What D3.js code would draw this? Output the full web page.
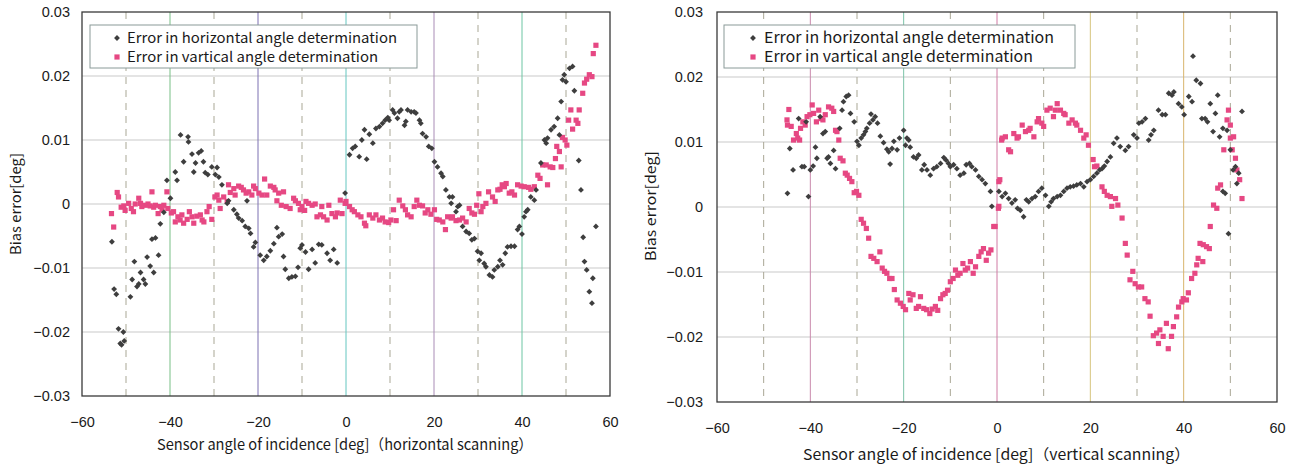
<!DOCTYPE html>
<html>
<head>
<meta charset="utf-8">
<script src="https://cdn.jsdelivr.net/npm/d3@7"></script>
<style>
  body { margin: 0; background: #fff; }
  svg { display: block; }
  text { font-family: "Liberation Sans", Arial, sans-serif; fill: #1a1a1a; }
  .jp { font-family: "Noto Sans CJK JP", "Liberation Sans", sans-serif; }
</style>
</head>
<body>
<svg id="chart" width="1301" height="467"></svg>
<script>
// ### DATA
var xTicks = [-60, -40, -20, 0, 20, 40, 60];
var xDashed = [-50, -30, -10, 10, 30, 50];
var yTicks = [-0.03, -0.02, -0.01, 0, 0.01, 0.02, 0.03];
var legendLabels = ["Error in horizontal angle determination", "Error in vartical angle determination"];
var yTitle = "Bias error[deg]";
var xTitleLeft = "Sensor angle of incidence [deg]（horizontal scanning）";
var xTitleRight = "Sensor angle of incidence [deg]（vertical scanning）";

// left panel: horizontal scanning
var leftHorizontal = [
  [-53.2,-0.0059],[-52.7,-0.0133],[-52.2,-0.0141],[-51.7,-0.0195],[-51.3,-0.0218],[-51.0,-0.0220],[-50.6,-0.0200],[-50.4,-0.0214],
  [-49.0,-0.0145],[-48.6,-0.0118],[-48.1,-0.0090],[-47.5,-0.0129],[-47.1,-0.0125],[-46.7,-0.0107],[-46.0,-0.0118],[-45.6,-0.0125],
  [-45.2,-0.0083],[-44.5,-0.0097],[-44.1,-0.0055],[-43.7,-0.0107],[-43.3,-0.0053],[-42.6,-0.0080],[-42.2,-0.0031],[-41.4,-0.0013],
  [-40.7,0.0037],[-39.9,0.0009],[-38.8,0.0050],[-38.4,0.0037],[-37.6,0.0108],[-36.9,0.0066],[-35.9,0.0105],[-35.8,0.0097],
  [-35.0,0.0078],[-34.6,0.0050],[-34.2,0.0064],[-33.5,0.0080],[-32.9,0.0083],[-32.4,0.0066],[-32.0,0.0049],[-31.4,0.0046],
  [-30.5,0.0058],[-29.7,0.0046],[-29.3,0.0057],[-28.9,0.0042],[-28.2,0.0030],[-27.0,0.0001],[-26.7,0.0005],[-25.5,-0.0009],
  [-24.8,-0.0016],[-24.4,-0.0022],[-23.6,-0.0026],[-22.9,-0.0035],[-22.5,0.0005],[-22.1,-0.0038],[-21.7,-0.0046],[-21.0,-0.0067],
  [-20.6,-0.0060],[-19.5,-0.0080],[-18.7,-0.0088],[-18.0,-0.0082],[-17.2,-0.0073],[-16.4,-0.0062],[-15.7,-0.0037],[-15.3,-0.0051],
  [-14.5,-0.0047],[-14.2,-0.0082],[-13.8,-0.0102],[-13.0,-0.0116],[-12.3,-0.0114],[-11.5,-0.0113],[-10.9,-0.0099],[-10.4,-0.0069],
  [-10.0,-0.0064],[-9.2,-0.0075],[-8.5,-0.0102],[-7.7,-0.0071],[-7.0,-0.0092],[-6.2,-0.0063],[-5.5,-0.0064],[-4.3,-0.0077],
  [-3.6,-0.0088],[-2.8,-0.0071],[-2.0,-0.0092],[-0.2,0.0017],
  [0.8,0.0077],[1.5,0.0087],[2.1,0.0090],[3.0,0.0074],[3.6,0.0100],[4.2,0.0116],[4.7,0.0070],[5.3,0.0109],[6.1,0.0095],
  [6.8,0.0118],[7.6,0.0121],[8.3,0.0126],[8.9,0.0131],[9.5,0.0135],[9.8,0.0131],[10.6,0.0147],[11.0,0.0142],[11.7,0.0134],
  [12.1,0.0144],[12.5,0.0147],[13.3,0.0123],[13.6,0.0129],[14.0,0.0147],[14.8,0.0144],[15.5,0.0144],[15.9,0.0142],[16.7,0.0131],
  [17.0,0.0126],[17.4,0.0110],[18.2,0.0105],[18.8,0.0090],[19.5,0.0087],[20.1,0.0066],[20.8,0.0058],[21.6,0.0048],[22.0,0.0043],
  [22.7,0.0022],[23.5,0.0011],[23.9,0.0001],[24.2,0.0011],[25.0,-0.0012],[25.4,-0.0004],[25.8,-0.0002],[26.5,-0.0035],
  [27.3,-0.0043],[28.0,-0.0046],[28.6,-0.0056],[29.2,-0.0054],[29.9,-0.0074],[30.3,-0.0088],[30.7,-0.0077],[31.4,-0.0093],
  [31.8,-0.0098],[32.6,-0.0111],[33.3,-0.0114],[33.7,-0.0103],[34.5,-0.0098],[35.0,-0.0088],[35.6,-0.0095],[36.2,-0.0077],
  [36.7,-0.0067],[37.5,-0.0066],[38.3,-0.0066],[39.0,-0.0040],[39.4,-0.0035],[40.0,-0.0047],[40.5,-0.0020],[40.9,-0.0012],
  [41.3,-0.0009],[42.0,0.0011],[42.8,0.0006],[43.2,0.0022],[44.3,0.0064],[45.1,0.0100],[45.5,0.0095],[45.8,0.0103],
  [46.6,0.0116],[47.3,0.0121],[48.1,0.0134],[48.5,0.0108],[48.9,0.0160],[49.2,0.0194],[49.6,0.0202],[50.0,0.0191],
  [50.8,0.0212],[51.5,0.0215],[51.9,0.0177],[52.9,0.0068],[53.4,0.0022],[53.9,-0.0052],[54.2,-0.0090],[54.7,-0.0103],
  [55.3,-0.0137],[55.9,-0.0155],[56.1,-0.0116],[56.8,-0.0035]
];
var leftVertical = [
  [-53.3,-0.0015],[-52.8,-0.0036],[-52.0,0.0018],[-51.7,0.0011],[-51.1,-0.0005],[-50.5,-0.0003],[-50.2,-0.0010],[-49.4,0.0001],
  [-48.8,-0.0007],[-48.3,-0.0012],[-47.9,0.0000],[-47.1,0.0009],[-46.7,0.0001],[-46.4,-0.0004],[-45.6,-0.0002],[-45.0,0.0000],
  [-44.5,-0.0003],[-44.1,0.0019],[-43.7,-0.0005],[-43.3,-0.0002],[-42.7,-0.0015],[-42.2,-0.0004],[-41.8,-0.0009],[-41.4,-0.0002],
  [-40.7,0.0019],[-40.5,-0.0007],[-39.7,-0.0014],[-39.2,-0.0012],[-38.8,-0.0028],[-38.2,-0.0020],[-37.7,-0.0025],[-37.3,-0.0017],
  [-36.9,-0.0030],[-36.1,-0.0024],[-35.6,-0.0012],[-35.0,-0.0020],[-34.6,-0.0030],[-33.9,-0.0019],[-33.1,-0.0017],[-32.7,-0.0025],
  [-32.3,-0.0028],[-31.6,-0.0012],[-31.1,-0.0004],[-30.5,-0.0024],[-29.8,0.0011],[-29.3,0.0014],[-28.9,0.0006],[-28.6,-0.0007],
  [-27.8,0.0011],[-27.0,0.0004],[-26.7,0.0030],[-26.3,0.0018],[-25.5,0.0024],[-25.2,0.0014],[-24.4,0.0028],[-23.8,0.0026],
  [-23.3,0.0022],[-22.7,0.0017],[-22.1,0.0019],[-21.4,0.0014],[-21.0,0.0028],[-20.6,0.0024],[-19.8,0.0017],[-19.1,0.0014],
  [-18.5,0.0039],[-18.0,0.0014],[-17.2,0.0028],[-16.4,0.0026],[-16.1,0.0022],[-15.7,0.0005],[-15.3,0.0017],[-14.7,-0.0002],
  [-14.2,0.0019],[-13.6,-0.0004],[-12.7,-0.0007],[-11.9,0.0009],[-11.5,0.0005],[-10.8,0.0001],[-10.4,-0.0009],[-10.0,-0.0004],
  [-9.4,-0.0010],[-9.1,0.0004],[-8.5,0.0001],[-7.7,-0.0002],[-7.0,0.0000],[-6.6,-0.0020],[-5.8,-0.0017],[-5.5,-0.0004],
  [-5.1,-0.0020],[-4.3,-0.0025],[-3.9,-0.0002],[-3.2,-0.0015],[-2.4,-0.0020],[-2.0,-0.0014],[-1.3,0.0006],[-0.9,-0.0015],
  [-0.2,0.0001],[0.0,0.0004],[0.8,-0.0004],[1.4,-0.0009],[1.9,-0.0012],[2.7,-0.0017],[3.4,-0.0020],[4.2,-0.0030],[4.5,-0.0034],
  [5.3,-0.0017],[6.1,-0.0022],[6.8,-0.0017],[7.6,-0.0025],[8.3,-0.0022],[8.9,-0.0028],[9.7,-0.0029],[10.2,-0.0025],[10.8,-0.0009],
  [11.4,-0.0026],[12.1,0.0006],[12.9,-0.0003],[13.5,-0.0009],[14.0,-0.0017],[14.8,-0.0020],[15.5,-0.0004],[16.1,0.0006],
  [16.7,-0.0002],[17.4,-0.0003],[18.0,-0.0014],[18.6,-0.0009],[19.3,-0.0016],[20.1,-0.0009],[20.6,-0.0024],[21.2,-0.0025],
  [22.0,-0.0028],[22.6,-0.0040],[23.1,-0.0020],[23.9,-0.0022],[24.2,-0.0020],[25.0,-0.0026],[25.8,-0.0025],[26.5,-0.0022],
  [27.3,-0.0028],[28.0,-0.0007],[28.6,-0.0014],[29.2,-0.0016],[29.7,-0.0002],[30.2,0.0016],[30.7,-0.0012],[31.1,-0.0004],
  [31.8,0.0001],[32.4,0.0019],[33.3,0.0011],[33.9,0.0004],[34.5,0.0022],[35.0,0.0023],[35.5,0.0030],[36.0,0.0027],[36.4,0.0032],
  [37.1,0.0017],[37.7,0.0019],[38.3,0.0014],[39.0,0.0030],[39.8,0.0028],[40.5,0.0027],[41.5,0.0026],[42.0,0.0023],[42.8,0.0027],
  [43.6,0.0045],[44.1,0.0040],[44.7,0.0061],[45.5,0.0061],[45.8,0.0030],[46.4,0.0058],[47.0,0.0057],[47.6,0.0071],[47.9,0.0090],
  [48.5,0.0082],[48.9,0.0058],[49.2,0.0104],[49.8,0.0100],[50.2,0.0092],[50.6,0.0131],[51.1,0.0147],[51.5,0.0117],[52.3,0.0131],
  [52.7,0.0126],[53.0,0.0147],[53.8,0.0173],[54.2,0.0189],[54.7,0.0195],[55.3,0.0202],[55.9,0.0199],[56.2,0.0235],[56.8,0.0248]
];

// right panel: vertical scanning
var rightHorizontal = [
  [-44.9,0.0021],[-44.4,0.0090],[-43.7,0.0057],[-42.5,0.0136],[-41.8,0.0062],[-41.3,0.0062],[-40.9,0.0131],[-40.4,0.0016],
  [-40.0,0.0057],[-39.4,0.0063],[-38.9,0.0092],[-38.6,0.0075],[-37.9,0.0139],[-37.3,0.0113],[-36.8,0.0116],[-36.4,0.0075],
  [-36.1,0.0077],[-35.7,0.0067],[-35.0,0.0087],[-34.6,0.0059],[-33.7,0.0121],[-33.2,0.0149],[-32.9,0.0162],[-32.3,0.0170],
  [-31.8,0.0172],[-31.4,0.0144],[-30.6,0.0131],[-30.0,0.0101],[-29.6,0.0095],[-29.1,0.0106],[-28.6,0.0111],[-28.2,0.0116],
  [-27.9,0.0121],[-27.3,0.0129],[-27.0,0.0143],[-26.6,0.0134],[-26.1,0.0139],[-25.6,0.0129],[-25.0,0.0109],[-24.3,0.0099],
  [-23.6,0.0089],[-23.2,0.0085],[-22.9,0.0066],[-22.5,0.0090],[-22.1,0.0101],[-21.4,0.0088],[-20.9,0.0106],[-20.0,0.0118],
  [-19.6,0.0095],[-19.3,0.0106],[-18.9,0.0103],[-18.6,0.0092],[-17.9,0.0077],[-17.3,0.0075],[-16.8,0.0080],[-16.1,0.0057],
  [-15.6,0.0065],[-15.0,0.0057],[-14.3,0.0049],[-13.6,0.0059],[-12.9,0.0062],[-12.1,0.0067],[-11.4,0.0076],[-10.9,0.0072],
  [-10.4,0.0067],[-10.0,0.0062],[-9.3,0.0065],[-8.6,0.0059],[-7.9,0.0049],[-7.1,0.0052],[-6.6,0.0065],[-5.9,0.0067],
  [-5.4,0.0062],[-4.6,0.0057],[-3.9,0.0047],[-3.2,0.0042],[-2.5,0.0036],[-1.4,0.0024],[-1.1,0.0001],
  [0.4,0.0024],[1.1,0.0016],[1.8,0.0021],[2.5,0.0013],[3.2,0.0006],[3.9,0.0011],[4.4,-0.0002],[5.0,-0.0005],[5.7,-0.0015],
  [6.3,0.0011],[6.8,0.0008],[7.5,0.0013],[8.2,0.0016],[8.9,0.0024],[9.6,0.0029],[10.4,0.0018],[11.1,0.0001],[11.6,0.0008],
  [12.1,0.0013],[12.9,0.0016],[13.6,0.0018],[14.3,0.0024],[15.0,0.0029],[15.7,0.0031],[16.4,0.0032],[17.1,0.0034],[17.9,0.0036],
  [18.6,0.0031],[19.3,0.0039],[20.0,0.0042],[20.7,0.0047],[21.4,0.0052],[22.0,0.0057],[22.5,0.0059],[23.0,0.0063],[23.6,0.0070],
  [24.3,0.0077],[25.0,0.0098],[25.7,0.0106],[26.4,0.0093],[27.5,0.0087],[28.2,0.0093],[29.3,0.0111],[30.0,0.0106],[30.4,0.0129],
  [31.1,0.0131],[31.8,0.0136],[32.5,0.0103],[33.0,0.0111],[33.6,0.0118],[34.6,0.0149],[35.4,0.0142],[36.1,0.0142],[36.8,0.0175],
  [37.5,0.0172],[37.9,0.0177],[38.9,0.0159],[39.6,0.0154],[40.1,0.0142],[41.1,0.0170],[41.8,0.0162],[42.0,0.0232],[42.7,0.0195],
  [43.6,0.0190],[43.9,0.0136],[44.6,0.0136],[45.1,0.0131],[45.7,0.0159],[46.3,0.0116],[46.8,0.0144],[47.3,0.0172],[47.7,0.0108],
  [48.4,0.0121],[48.4,0.0024],[48.9,0.0021],[49.3,0.0118],[49.6,-0.0041],[50.0,0.0088],[50.6,0.0057],[51.1,0.0062],[51.4,0.0036],
  [51.8,0.0052],[52.5,0.0147]
];
var rightVertical = [
  [-45.0,0.0134],[-44.9,0.0126],[-44.6,0.0150],[-44.1,0.0124],[-43.6,0.0103],[-43.0,0.0113],[-42.7,0.0106],[-42.3,0.0103],
  [-42.1,0.0121],[-41.6,0.0131],[-41.1,0.0126],[-40.7,0.0139],[-40.1,0.0142],[-39.6,0.0157],[-39.3,0.0144],[-38.7,0.0131],
  [-38.2,0.0149],[-37.7,0.0136],[-37.3,0.0134],[-36.8,0.0142],[-36.1,0.0154],[-35.4,0.0152],[-35.0,0.0147],[-34.6,0.0118],
  [-34.3,0.0116],[-33.9,0.0103],[-33.6,0.0075],[-33.0,0.0071],[-32.5,0.0052],[-32.1,0.0049],[-31.6,0.0044],[-31.1,0.0039],
  [-30.6,0.0022],[-30.1,0.0024],[-29.6,0.0018],[-29.1,-0.0019],[-28.6,-0.0025],[-28.0,-0.0033],[-27.5,-0.0048],[-27.0,-0.0076],
  [-26.4,-0.0079],[-25.7,-0.0084],[-25.1,-0.0069],[-24.6,-0.0094],[-24.1,-0.0099],[-23.6,-0.0102],[-23.0,-0.0110],[-22.5,-0.0110],
  [-22.0,-0.0127],[-21.4,-0.0143],[-20.7,-0.0148],[-20.1,-0.0153],[-19.6,-0.0158],[-18.9,-0.0133],[-18.6,-0.0143],[-18.0,-0.0135],
  [-17.3,-0.0156],[-16.8,-0.0153],[-16.4,-0.0138],[-15.7,-0.0156],[-15.1,-0.0158],[-14.4,-0.0164],[-13.9,-0.0157],[-13.2,-0.0153],
  [-12.7,-0.0159],[-12.1,-0.0141],[-11.6,-0.0135],[-11.1,-0.0133],[-10.6,-0.0128],[-10.0,-0.0115],[-9.4,-0.0110],[-8.9,-0.0097],
  [-8.4,-0.0105],[-7.9,-0.0102],[-7.3,-0.0087],[-6.8,-0.0097],[-6.3,-0.0094],[-5.7,-0.0084],[-5.1,-0.0102],[-4.6,-0.0092],
  [-3.9,-0.0076],[-3.4,-0.0069],[-2.9,-0.0064],[-2.3,-0.0082],[-1.8,-0.0071],[-1.3,-0.0066],[-0.7,-0.0030],[-0.4,-0.0030],
  [0.3,-0.0002],[0.4,0.0001],[0.4,0.0039],[0.6,0.0042],[1.0,0.0103],
  [1.1,0.0106],[1.8,0.0108],[2.5,0.0088],[2.9,0.0085],[3.6,0.0113],[4.3,0.0106],[4.6,0.0108],[5.4,0.0126],[6.1,0.0116],
  [6.8,0.0118],[7.1,0.0121],[7.9,0.0108],[8.6,0.0131],[8.9,0.0136],[9.6,0.0129],[10.0,0.0124],[10.7,0.0149],[11.4,0.0152],
  [12.1,0.0139],[12.5,0.0149],[12.9,0.0159],[13.6,0.0149],[14.3,0.0144],[14.6,0.0142],[15.4,0.0129],[16.1,0.0134],[16.8,0.0129],
  [17.1,0.0126],[17.9,0.0118],[18.6,0.0106],[19.1,0.0111],[19.6,0.0095],[20.6,0.0073],[20.9,0.0062],[21.4,0.0063],[22.5,0.0031],
  [23.0,0.0024],[23.6,0.0018],[24.3,0.0016],[24.6,0.0001],[25.4,0.0013],[25.9,0.0003],[26.8,-0.0017],[27.5,-0.0056],[27.9,-0.0074],
  [28.5,-0.0112],[29.1,-0.0099],[29.6,-0.0118],[30.3,-0.0123],[31.0,-0.0123],[31.7,-0.0141],[32.4,-0.0146],[32.8,-0.0168],
  [33.5,-0.0198],[34.2,-0.0194],[34.9,-0.0189],[35.6,-0.0199],[34.6,-0.0210],[36.3,-0.0179],[36.7,-0.0218],[37.4,-0.0199],
  [37.8,-0.0184],[38.5,-0.0169],[38.9,-0.0154],[39.6,-0.0146],[39.9,-0.0141],[40.6,-0.0143],[41.0,-0.0132],[41.7,-0.0110],
  [42.4,-0.0102],[42.8,-0.0089],[43.1,-0.0079],[43.5,-0.0056],[44.1,-0.0084],[44.2,-0.0058],[44.9,-0.0061],[45.5,-0.0064],
  [45.7,-0.0030],[46.4,0.0003],[47.1,-0.0002],[47.3,0.0029],[47.9,0.0034],[48.6,0.0088],[49.3,0.0134],[49.6,0.0149],
  [50.0,0.0126],[50.0,0.0106],[50.4,0.0088],[50.7,0.0108],[51.1,0.0075],[51.4,0.0057],[52.0,0.0042],[52.5,0.0013]
];

// colours of the solid verticals at -40,-20,0,20,40 (scan tints)
var leftMajorColors = ["#79bf86", "#7d70b2", "#64c6c0", "#a98cb6", "#6cc5a3"];
var rightMajorColors = ["#c98aac", "#7cc3a8", "#d07aa4", "#d6c47e", "#d8b56c"];

var darkColor = "#3e3e3e";
var pinkColor = "#e64883";

var svg = d3.select("#chart");

function drawPanel(p) {
  var x = d3.scaleLinear().domain([-60, 60]).range([p.left, p.right]);
  var y = d3.scaleLinear().domain([-0.03, 0.03]).range([p.bottom, p.top]);
  var g = svg.append("g");

  // horizontal grid
  g.selectAll("line.hgrid").data(yTicks.slice(1, -1)).enter().append("line")
    .attr("class", "hgrid")
    .attr("x1", p.left).attr("x2", p.right)
    .attr("y1", function(d) { return y(d); }).attr("y2", function(d) { return y(d); })
    .attr("stroke", "#c9c9c9").attr("stroke-width", 1);

  // dashed verticals
  g.selectAll("line.dgrid").data(xDashed).enter().append("line")
    .attr("class", "dgrid")
    .attr("x1", function(d) { return x(d); }).attr("x2", function(d) { return x(d); })
    .attr("y1", p.top).attr("y2", p.bottom)
    .attr("stroke", "#a9a795").attr("stroke-width", 1)
    .attr("stroke-dasharray", "7,6");

  // solid verticals
  g.selectAll("line.vgrid").data(xTicks.slice(1, -1)).enter().append("line")
    .attr("class", "vgrid")
    .attr("x1", function(d) { return x(d); }).attr("x2", function(d) { return x(d); })
    .attr("y1", p.top).attr("y2", p.bottom)
    .attr("stroke", function(d, i) { return p.majorColors[i]; }).attr("stroke-width", 1);

  // frame
  g.append("rect")
    .attr("x", p.left).attr("y", p.top)
    .attr("width", p.right - p.left).attr("height", p.bottom - p.top)
    .attr("fill", "none").attr("stroke", "#3a3a3a").attr("stroke-width", 1.3);

  // axes (labels only)
  var yAxis = g.append("g").attr("transform", "translate(" + p.left + ",0)")
    .call(d3.axisLeft(y).tickValues(yTicks).tickSize(0).tickPadding(p.yPad).tickFormat(d3.format(".2~f")));
  var xAxis = g.append("g").attr("transform", "translate(0," + p.bottom + ")")
    .call(d3.axisBottom(x).tickValues(xTicks).tickSize(0).tickPadding(21).tickFormat(d3.format("d")));
  [yAxis, xAxis].forEach(function(a) {
    a.select(".domain").remove();
    a.selectAll("text").attr("font-size", 14.5).attr("fill", "#1a1a1a");
  });

  // series: squares for vertical error, squares turned 45deg for horizontal error
  var square = d3.symbol().type(d3.symbolSquare).size(27);
  var diamond = d3.symbol().type(d3.symbolSquare).size(17);

  g.selectAll("path.vert").data(p.vertical).enter().append("path")
    .attr("class", "vert")
    .attr("d", square)
    .attr("transform", function(d) { return "translate(" + x(d[0]) + "," + y(d[1]) + ")"; })
    .attr("fill", pinkColor);

  g.selectAll("path.horz").data(p.horizontal).enter().append("path")
    .attr("class", "horz")
    .attr("d", diamond)
    .attr("transform", function(d) { return "translate(" + x(d[0]) + "," + y(d[1]) + ") rotate(45)"; })
    .attr("fill", darkColor);

  // legend
  var lg = g.append("g");
  lg.append("rect")
    .attr("x", p.legend.x).attr("y", p.legend.y)
    .attr("width", p.legend.w).attr("height", p.legend.h)
    .attr("fill", "#fff").attr("stroke", "#8a9a98").attr("stroke-width", 1);
  lg.append("path").attr("d", diamond)
    .attr("transform", "translate(" + p.legend.mx + "," + (p.legend.y + 13) + ") rotate(45)")
    .attr("fill", darkColor);
  lg.append("path").attr("d", square)
    .attr("transform", "translate(" + p.legend.mx + "," + (p.legend.y + 32) + ")")
    .attr("fill", pinkColor);
  lg.selectAll("text").data(legendLabels).enter().append("text")
    .attr("class", "jp")
    .attr("x", p.legend.tx)
    .attr("y", function(d, i) { return p.legend.y + 18 + i * 19; })
    .attr("font-size", p.legend.fs)
    .attr("textLength", function(d, i) { return p.legend.tw[i]; })
    .attr("lengthAdjust", "spacingAndGlyphs")
    .text(function(d) { return d; });

  // axis titles
  g.append("text")
    .attr("class", "jp")
    .attr("x", p.xt.x).attr("y", p.xt.y)
    .attr("font-size", 15)
    .attr("textLength", p.xt.w).attr("lengthAdjust", "spacingAndGlyphs")
    .text(p.xTitle);
  g.append("text")
    .attr("class", "jp")
    .attr("transform", "translate(" + p.yt.x + "," + p.yt.y + ") rotate(-90)")
    .attr("text-anchor", "middle")
    .attr("font-size", 14)
    .attr("textLength", p.yt.w).attr("lengthAdjust", "spacingAndGlyphs")
    .text(yTitle);
}

drawPanel({
  left: 82, right: 610, top: 12, bottom: 396, yPad: 12,
  horizontal: leftHorizontal, vertical: leftVertical,
  majorColors: leftMajorColors,
  legend: {x: 90, y: 25, w: 327, h: 43, mx: 117, tx: 127, fs: 14, tw: [270, 251]},
  xTitle: xTitleLeft, xt: {x: 157, y: 450, w: 376},
  yt: {x: 21, y: 204, w: 102}
});

drawPanel({
  left: 717, right: 1277, top: 12, bottom: 402, yPad: 14,
  horizontal: rightHorizontal, vertical: rightVertical,
  majorColors: rightMajorColors,
  legend: {x: 724, y: 25, w: 351, h: 43, mx: 753, tx: 764, fs: 15, tw: [290, 269]},
  xTitle: xTitleRight, xt: {x: 803, y: 460, w: 387},
  yt: {x: 656, y: 206, w: 110}
});
</script>
</body>
</html>
